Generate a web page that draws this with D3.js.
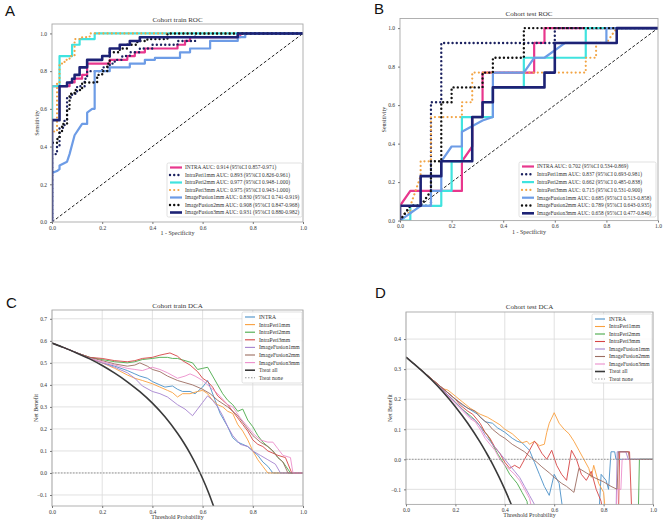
<!DOCTYPE html>
<html>
<head>
<meta charset="utf-8">
<script src="https://cdn.jsdelivr.net/npm/d3@7"></script>
<style>
body{margin:0;background:#fff}
text{font-family:"Liberation Serif","DejaVu Serif",serif;fill:#333}
.letter{font-family:"Liberation Sans",Arial,sans-serif;font-size:15px;fill:#111}
</style>
</head>
<body>
<script>

// ---------------- data ----------------
var rocModels = ["INTRA","IntraPeri1mm","IntraPeri2mm","IntraPeri3mm","ImageFusion1mm","ImageFusion2mm","ImageFusion3mm"];
var trainAuc = ["0.914 (95%CI 0.857-0.971)","0.893 (95%CI 0.826-0.961)","0.977 (95%CI 0.948-1.000)","0.975 (95%CI 0.943-1.000)","0.830 (95%CI 0.741-0.919)","0.908 (95%CI 0.847-0.968)","0.931 (95%CI 0.880-0.982)"];
var testAuc = ["0.702 (95%CI 0.534-0.869)","0.837 (95%CI 0.693-0.981)","0.662 (95%CI 0.485-0.838)","0.715 (95%CI 0.531-0.900)","0.685 (95%CI 0.513-0.858)","0.789 (95%CI 0.643-0.935)","0.658 (95%CI 0.477-0.840)"];

var trainFpr = [
  [0,0,0.07,0.07,0.09,0.09,0.12,0.12,0.14,0.14,0.23,0.23,0.3,0.3,0.33,0.33,0.37,0.37,0.5,0.5,0.53,0.53,0.55,0.55,0.75,0.75,1],
  [0,0,0.02,0.02,0.03,0.03,0.05,0.05,0.06,0.06,0.08,0.08,0.1,0.1,0.13,0.13,0.14,0.14,0.2,0.2,0.23,0.23,0.25,0.25,0.28,0.28,0.31,0.31,0.35,0.35,0.4,0.4,0.5,0.5,0.57,0.57,1],
  [0,0,0.03,0.03,0.08,0.08,0.11,0.11,0.17,0.17,1],
  [0,0,0.02,0.02,0.03,0.03,0.05,0.05,0.07,0.07,0.09,0.09,0.12,0.12,0.15,0.15,1],
  [0,0,0.02,0.03,0.03,0.06,0.07,0.09,0.11,0.12,0.14,0.14,0.16,0.17,0.17,0.23,0.23,0.31,0.31,0.37,0.37,0.41,0.41,0.51,0.51,0.55,0.55,0.63,0.63,0.74,0.74,0.77,0.77,1],
  [0,0,0.02,0.02,0.03,0.03,0.04,0.04,0.06,0.06,0.07,0.07,0.09,0.09,0.12,0.12,0.18,0.18,0.2,0.2,0.22,0.22,0.23,0.23,0.27,0.27,0.3,0.3,0.34,0.34,0.38,0.38,0.46,0.46,1],
  [0,0,0.03,0.03,0.06,0.06,0.08,0.08,0.09,0.09,0.11,0.11,0.14,0.14,0.2,0.2,0.23,0.23,0.27,0.27,0.31,0.31,0.35,0.35,0.74,0.74,1]
];
var trainTpr = [
  [0,0.72,0.72,0.74,0.74,0.76,0.76,0.78,0.78,0.84,0.84,0.86,0.86,0.88,0.88,0.9,0.9,0.92,0.92,0.94,0.94,0.96,0.96,0.98,0.98,1,1],
  [0,0.36,0.36,0.4,0.4,0.5,0.5,0.54,0.54,0.66,0.66,0.68,0.68,0.72,0.72,0.76,0.76,0.8,0.8,0.82,0.82,0.84,0.84,0.86,0.86,0.88,0.88,0.9,0.9,0.92,0.92,0.94,0.94,0.96,0.96,1,1],
  [0,0.72,0.72,0.88,0.88,0.94,0.94,0.97,0.97,1,1],
  [0,0.48,0.48,0.74,0.74,0.84,0.84,0.86,0.86,0.88,0.88,0.97,0.97,0.98,0.98,1,1],
  [0,0.26,0.27,0.28,0.3,0.32,0.36,0.46,0.5,0.52,0.52,0.58,0.6,0.6,0.8,0.8,0.82,0.82,0.84,0.84,0.86,0.86,0.87,0.87,0.9,0.9,0.92,0.92,0.96,0.96,0.98,0.98,1,1],
  [0,0.42,0.42,0.44,0.44,0.48,0.48,0.52,0.52,0.6,0.6,0.68,0.68,0.7,0.7,0.74,0.74,0.78,0.78,0.8,0.8,0.84,0.84,0.9,0.9,0.92,0.92,0.94,0.94,0.96,0.96,0.97,0.97,1,1],
  [0,0.54,0.54,0.72,0.72,0.74,0.74,0.76,0.76,0.78,0.78,0.82,0.82,0.86,0.86,0.88,0.88,0.92,0.92,0.94,0.94,0.96,0.96,0.98,0.98,1,1]
];

var testFpr = [
  [0,0,0.04,0.24,0.24,0.28,0.28,0.32,0.32,0.52,0.52,0.56,0.56,1],
  [0,0.04,0.12,0.12,0.16,0.16,0.6,0.6,1],
  [0,0.04,0.04,0.16,0.16,0.2,0.2,0.24,0.24,0.36,0.36,0.48,0.48,0.72,0.72,1],
  [0,0.02,0.04,0.04,0.06,0.08,0.08,0.12,0.12,0.24,0.24,0.28,0.28,0.72,0.72,0.76,0.76,0.8,0.84,1],
  [0,0.08,0.12,0.12,0.16,0.16,0.2,0.24,0.24,0.32,0.36,0.36,0.48,0.52,0.56,0.64,0.8,0.8,1],
  [0,0.04,0.08,0.12,0.12,0.16,0.16,0.2,0.2,0.32,0.32,0.36,0.36,0.48,0.48,1],
  [0,0,0.08,0.08,0.16,0.16,0.28,0.28,0.32,0.32,0.36,0.36,0.56,0.56,0.6,0.6,0.84,0.84,1]
];
var testTpr = [
  [0,0.077,0.154,0.154,0.308,0.385,0.538,0.538,0.769,0.769,0.923,0.923,1,1],
  [0,0.077,0.077,0.615,0.615,0.923,0.923,1,1],
  [0,0,0.077,0.077,0.154,0.154,0.308,0.308,0.538,0.538,0.692,0.692,0.846,0.846,1,1],
  [0,0.04,0.04,0.077,0.154,0.231,0.308,0.308,0.538,0.538,0.615,0.615,0.769,0.769,0.846,0.846,0.923,0.923,1,1],
  [0,0.077,0.077,0.154,0.154,0.308,0.385,0.385,0.462,0.52,0.538,0.769,0.769,0.846,0.846,0.923,0.923,1,1],
  [0,0.077,0.077,0.154,0.308,0.308,0.615,0.615,0.692,0.692,0.769,0.769,0.846,0.846,1,1],
  [0,0.077,0.077,0.231,0.231,0.308,0.308,0.538,0.538,0.615,0.615,0.692,0.692,0.769,0.769,0.923,0.923,1,1]
];

var dcaNames = ["INTRA","IntraPeri1mm","IntraPeri2mm","IntraPeri3mm","ImageFusion1mm","ImageFusion2mm","ImageFusion3mm","Treat all","Treat none"];

var trainDcaT = [
  [0,0.05,0.1,0.15,0.2,0.25,0.3,0.33,0.35,0.38,0.4,0.43,0.45,0.48,0.5,0.52,0.55,0.57,0.6,0.62,0.63,0.65,0.67,0.7,0.72,0.74,0.76,0.78,0.8,0.82,0.84,0.86,0.88,1],
  [0,0.05,0.1,0.15,0.2,0.25,0.3,0.33,0.36,0.4,0.43,0.46,0.48,0.5,0.52,0.55,0.58,0.6,0.62,0.64,0.66,0.68,0.7,0.72,0.74,0.76,0.78,0.8,0.82,0.84,0.86,1],
  [0,0.05,0.1,0.15,0.2,0.25,0.3,0.33,0.36,0.4,0.43,0.46,0.48,0.5,0.53,0.56,0.58,0.6,0.62,0.64,0.66,0.68,0.7,0.72,0.74,0.76,0.78,0.8,0.82,0.84,0.86,0.88,0.9,0.92,0.95,1],
  [0,0.05,0.1,0.15,0.2,0.25,0.3,0.33,0.36,0.4,0.43,0.45,0.47,0.5,0.52,0.55,0.58,0.6,0.62,0.64,0.66,0.68,0.7,0.72,0.74,0.76,0.78,0.8,0.82,0.84,0.86,0.88,0.9,0.93,0.955,1],
  [0,0.05,0.1,0.15,0.2,0.25,0.3,0.33,0.36,0.4,0.43,0.46,0.5,0.53,0.55,0.56,0.58,0.6,0.62,0.64,0.66,0.68,0.7,0.72,0.75,0.78,0.8,0.83,0.86,0.89,0.91,1],
  [0,0.05,0.1,0.15,0.2,0.25,0.3,0.33,0.35,0.38,0.4,0.43,0.46,0.5,0.53,0.56,0.6,0.63,0.66,0.7,0.74,0.78,0.8,0.83,0.86,0.88,0.9,0.92,0.94,1],
  [0,0.05,0.1,0.15,0.2,0.25,0.3,0.33,0.36,0.4,0.43,0.46,0.5,0.53,0.55,0.57,0.6,0.63,0.66,0.7,0.72,0.75,0.78,0.8,0.83,0.86,0.88,0.9,0.92,0.95,0.96,1],
  [0,0.05,0.1,0.15,0.2,0.25,0.3,0.35,0.4,0.45,0.5,0.525,0.55,0.575,0.6,0.625,0.65],
  [0,1]
];
var trainDcaNB = [
  [0.59,0.568,0.545,0.522,0.5,0.485,0.465,0.45,0.44,0.43,0.415,0.4,0.39,0.395,0.38,0.37,0.37,0.36,0.39,0.42,0.39,0.33,0.27,0.21,0.16,0.14,0.13,0.12,0.1,0.08,0.05,0.03,0,0],
  [0.59,0.568,0.545,0.52,0.5,0.475,0.445,0.43,0.42,0.405,0.39,0.375,0.365,0.345,0.36,0.36,0.37,0.375,0.36,0.33,0.31,0.3,0.28,0.27,0.22,0.19,0.15,0.1,0.06,0.03,0,0],
  [0.59,0.568,0.545,0.525,0.515,0.505,0.5,0.505,0.515,0.52,0.525,0.525,0.52,0.52,0.51,0.5,0.47,0.475,0.48,0.44,0.4,0.36,0.33,0.31,0.28,0.29,0.24,0.21,0.17,0.14,0.12,0.1,0.07,0.05,0,0],
  [0.59,0.568,0.545,0.525,0.52,0.51,0.505,0.51,0.52,0.525,0.535,0.54,0.545,0.53,0.51,0.49,0.46,0.43,0.415,0.39,0.35,0.33,0.31,0.28,0.25,0.22,0.19,0.15,0.13,0.12,0.1,0.09,0.08,0.07,0,0],
  [0.59,0.568,0.545,0.52,0.5,0.48,0.455,0.43,0.395,0.37,0.36,0.345,0.31,0.29,0.27,0.26,0.29,0.32,0.35,0.33,0.3,0.26,0.21,0.17,0.13,0.12,0.1,0.08,0.06,0.04,0,0],
  [0.59,0.568,0.545,0.525,0.51,0.495,0.485,0.49,0.5,0.485,0.47,0.46,0.44,0.42,0.41,0.4,0.38,0.36,0.33,0.3,0.26,0.2,0.17,0.14,0.12,0.1,0.07,0.05,0,0],
  [0.59,0.568,0.545,0.52,0.505,0.49,0.475,0.47,0.465,0.48,0.47,0.455,0.43,0.44,0.45,0.44,0.42,0.39,0.36,0.31,0.3,0.25,0.21,0.18,0.15,0.14,0.14,0.11,0.08,0.07,0,0],
  [0.59,0.568,0.544,0.518,0.488,0.453,0.414,0.369,0.317,0.255,0.18,0.137,0.089,0.035,-0.025,-0.093,-0.171],
  [0,0]
];

var testDcaT = [
  [0,0.05,0.1,0.15,0.2,0.23,0.26,0.29,0.32,0.35,0.37,0.4,0.43,0.45,0.47,0.5,0.52,0.54,0.56,0.58,0.6,0.62,0.64,0.66,0.78,0.79,0.81,0.82,0.83,0.845,0.85,1],
  [0,0.05,0.1,0.15,0.17,0.2,0.23,0.26,0.28,0.3,0.33,0.35,0.38,0.4,0.43,0.45,0.47,0.49,0.5,0.52,0.54,0.56,0.57,0.58,0.6,0.62,0.64,0.66,0.68,0.7,0.72,0.74,0.75,0.76,0.78,0.8,0.81],
  [0,0.05,0.1,0.15,0.2,0.23,0.26,0.28,0.3,0.33,0.35,0.37,0.4,0.42,0.45,0.47,0.49,0.5,0.94,0.945,1],
  [0,0.05,0.1,0.15,0.2,0.22,0.25,0.27,0.3,0.32,0.34,0.36,0.38,0.4,0.42,0.44,0.46,0.48,0.5,0.52,0.53,0.55,0.57,0.59,0.61,0.63,0.65,0.67,0.69,0.71,0.73,0.75,0.77,0.79,0.8,0.86,0.865,0.905,0.915],
  [0,0.05,0.1,0.15,0.2,0.23,0.26,0.28,0.3,0.32,0.34,0.36,0.38,0.4,0.42,0.44,0.46,0.48,0.5,0.52,0.53,0.85,0.855,0.89,0.9,1],
  [0,0.05,0.1,0.15,0.2,0.25,0.28,0.3,0.33,0.35,0.38,0.4,0.43,0.45,0.48,0.5,0.53,0.55,0.58,0.6,0.63,0.65,0.68,0.7,0.73,0.76,0.8,0.83,0.855,0.86,0.9,0.905,1],
  [0,0.05,0.1,0.15,0.2,0.23,0.26,0.28,0.3,0.32,0.34,0.36,0.38,0.4,0.42,0.44,0.46,0.48,0.5,0.52,0.85,0.855,0.87,0.875,0.9],
  [0,0.05,0.1,0.15,0.2,0.25,0.3,0.325,0.35,0.375,0.4,0.425,0.45],
  [0,1]
];
var testDcaNB = [
  [0.34,0.305,0.27,0.235,0.2,0.18,0.165,0.15,0.125,0.12,0.105,0.09,0.07,0.06,0.055,0.03,-0.01,-0.05,-0.09,-0.12,-0.05,-0.08,-0.2,-0.2,-0.2,-0.05,-0.07,-0.1,0.025,0.025,0,0],
  [0.34,0.305,0.27,0.235,0.23,0.21,0.19,0.17,0.16,0.15,0.14,0.13,0.115,0.1,0.085,0.07,0.055,0.06,0.05,0.06,0.045,0.05,0.09,0.12,0.155,0.12,0.1,0.085,0.06,0.03,0,-0.03,-0.06,-0.02,-0.08,-0.11,-0.2],
  [0.34,0.305,0.268,0.23,0.19,0.165,0.145,0.13,0.11,0.08,0.05,0.02,-0.02,-0.05,-0.08,-0.11,-0.14,-0.2,-0.2,0,0],
  [0.34,0.305,0.27,0.235,0.2,0.18,0.16,0.15,0.12,0.09,0.07,0.04,0.02,-0.01,-0.03,-0.02,-0.03,0,0.03,0.06,0.05,0.02,0,0.03,-0.02,-0.05,-0.07,0.03,0,-0.05,-0.07,-0.04,-0.1,-0.14,-0.2,-0.2,0.025,0.025,-0.2],
  [0.34,0.305,0.268,0.23,0.19,0.165,0.14,0.13,0.11,0.08,0.06,0.04,0.02,0,-0.02,-0.04,-0.06,-0.09,-0.12,-0.15,-0.2,-0.2,0.025,0.025,0,0],
  [0.34,0.305,0.27,0.235,0.2,0.17,0.16,0.14,0.12,0.1,0.08,0.07,0.05,0.04,0.025,0.01,-0.01,-0.025,-0.045,-0.06,-0.08,-0.09,-0.11,-0.03,-0.045,-0.06,-0.075,-0.09,-0.1,0.025,0.025,0,0],
  [0.34,0.305,0.268,0.228,0.185,0.16,0.135,0.125,0.1,0.07,0.05,0.03,0,-0.02,-0.035,-0.05,-0.07,-0.1,-0.13,-0.2,-0.2,-0.1,-0.1,0,0],
  [0.34,0.305,0.267,0.224,0.175,0.12,0.057,0.022,-0.015,-0.056,-0.1,-0.148,-0.2],
  [0,0]
];

var xTicks = [0,0.2,0.4,0.6,0.8,1.0];
var rocYTicks = [0,0.2,0.4,0.6,0.8,1.0];
var trainDcaYTicks = [-0.1,0,0.1,0.2,0.3,0.4,0.5,0.6,0.7];
var testDcaYTicks = [-0.1,0,0.1,0.2,0.3,0.4];

// ---------------- styles ----------------
var rocColors = ["#e8378d","#1c2260","#40e3df","#f2a444","#6d9ce6","#111111","#1d2275"];
var rocDotted = [false,true,false,true,false,true,false];
var rocWidth = [2.2,2.4,2.2,2.2,2.2,2.4,2.6];
var dcaColors = ["#4a90c8","#f9a03f","#4aaa4a","#d64545","#a583cf","#9c6d62","#ec8fcc","#3a3a3a","#999999"];

var svg = d3.select("body").append("svg").attr("width",669).attr("height",525);
var fmt = d3.format(".1f");

function panel(o){
  var x = d3.scaleLinear().domain([0,1]).range([o.l,o.r]);
  var y = d3.scaleLinear().domain(o.yDom).range([o.b,o.t]);
  var g = svg.append("g");
  var id = "clip" + o.name;
  svg.append("clipPath").attr("id",id).append("rect")
     .attr("x",o.l).attr("y",o.t).attr("width",o.r-o.l).attr("height",o.b-o.t);

  if(o.grid){
    g.selectAll(".gx").data(xTicks).enter().append("line")
      .attr("x1",function(d){return x(d);}).attr("x2",function(d){return x(d);})
      .attr("y1",o.t).attr("y2",o.b).style("stroke","#dedede").style("stroke-width",0.9);
    g.selectAll(".gy").data(o.yTicks).enter().append("line")
      .attr("y1",function(d){return y(d);}).attr("y2",function(d){return y(d);})
      .attr("x1",o.l).attr("x2",o.r).style("stroke","#dedede").style("stroke-width",0.9);
  }

  var plot = g.append("g").attr("clip-path","url(#"+id+")");

  g.append("rect").attr("x",o.l).attr("y",o.t).attr("width",o.r-o.l).attr("height",o.b-o.t)
    .style("fill","none").style("stroke","#a8a8a8").style("stroke-width",0.9);

  g.append("g").attr("transform","translate(0,"+o.b+")")
    .call(d3.axisBottom(x).tickValues(xTicks).tickFormat(fmt).tickSize(2).tickPadding(2));
  g.append("g").attr("transform","translate("+o.l+",0)")
    .call(d3.axisLeft(y).tickValues(o.yTicks).tickFormat(fmt).tickSize(2).tickPadding(3));
  g.selectAll(".domain").remove();
  g.selectAll(".tick line").style("stroke","#777");
  g.selectAll(".tick text").style("font-size","5.5px").style("font-family","Liberation Serif").attr("fill","#444");

  g.append("text").attr("x",(o.l+o.r)/2).attr("y",o.titleY).attr("text-anchor","middle")
    .style("font-size","7px").text(o.title);
  g.append("text").attr("x",(o.l+o.r)/2).attr("y",o.b+13).attr("text-anchor","middle")
    .style("font-size","6px").text(o.xlabel);
  g.append("text").attr("transform","translate("+o.ylx+","+((o.t+o.b)/2)+") rotate(-90)")
    .attr("text-anchor","middle").style("font-size","6px").text(o.ylabel);
  svg.append("text").attr("class","letter").attr("x",o.lx).attr("y",o.ly).text(o.letter);

  return {x:x,y:y,plot:plot,g:g};
}

function drawRoc(p, fprs, tprs, aucs, leg){
  var line = d3.line().x(function(d){return p.x(d[0]);}).y(function(d){return p.y(d[1]);});
  p.plot.append("path").datum([[0,0],[1,1]]).attr("d",line)
    .style("fill","none").style("stroke","#222").style("stroke-width",1).style("stroke-dasharray","3,2");
  rocModels.forEach(function(m,i){
    var pts = d3.zip(fprs[i],tprs[i]);
    var path = p.plot.append("path").datum(pts).attr("d",line)
      .style("fill","none").style("stroke",rocColors[i]).style("stroke-width",rocWidth[i])
      .style("stroke-linejoin","round");
    if(rocDotted[i]) path.style("stroke-dasharray","0.01,4.2").style("stroke-linecap","round");
  });
  var lg = p.g.append("g");
  lg.append("rect").attr("x",leg.x).attr("y",leg.y).attr("width",leg.w).attr("height",leg.h)
    .attr("rx",1.5).style("fill","#fff").style("fill-opacity",0.85).style("stroke","#d4d4d4").style("stroke-width",0.7);
  rocModels.forEach(function(m,i){
    var yy = leg.y + 4.5 + i*leg.dy;
    var l = lg.append("line").attr("x1",leg.x+3).attr("x2",leg.x+15).attr("y1",yy).attr("y2",yy)
      .style("stroke",rocColors[i]).style("stroke-width",rocWidth[i]);
    if(rocDotted[i]) l.style("stroke-dasharray","0.01,4.2").style("stroke-linecap","round");
    lg.append("text").attr("x",leg.x+18).attr("y",yy+1.8).style("font-size","5.4px")
      .text(m + " AUC: " + aucs[i]);
  });
}

function drawDca(p, ts, nbs, leg){
  var line = d3.line().x(function(d){return p.x(d[0]);}).y(function(d){return p.y(d[1]);});
  dcaNames.forEach(function(m,i){
    var pts = d3.zip(ts[i],nbs[i]);
    var path = p.plot.append("path").datum(pts)
      .style("fill","none").style("stroke",dcaColors[i]).style("stroke-linejoin","round");
    if(i == 7){
      path.attr("d",line.curve(d3.curveMonotoneX)).style("stroke-width",1.6);
      line.curve(d3.curveLinear);
    } else if(i == 8){
      path.attr("d",line).style("stroke-width",1).style("stroke-dasharray","1.5,1.5");
    } else {
      path.attr("d",line).style("stroke-width",1).style("stroke-opacity",0.9);
    }
  });
  var lg = p.g.append("g");
  lg.append("rect").attr("x",leg.x).attr("y",leg.y).attr("width",leg.w).attr("height",leg.h)
    .attr("rx",1.5).style("fill","#fff").style("fill-opacity",0.85).style("stroke","#d4d4d4").style("stroke-width",0.7);
  dcaNames.forEach(function(m,i){
    var yy = leg.y + 5 + i*leg.dy;
    var l = lg.append("line").attr("x1",leg.x+3).attr("x2",leg.x+13).attr("y1",yy).attr("y2",yy)
      .style("stroke",dcaColors[i]).style("stroke-width",i==7?1.6:1.1);
    if(i == 8) l.style("stroke-dasharray","1.5,1.5");
    lg.append("text").attr("x",leg.x+17).attr("y",yy+1.9).style("font-size","5.6px").text(m);
  });
}

// A
var pA = panel({name:"A",l:52,r:303,t:24,b:222,yDom:[0,1.05],yTicks:rocYTicks,grid:false,
  title:"Cohort train ROC",titleY:21.5,xlabel:"1 - Specificity",ylabel:"Sensitivity",ylx:39,
  letter:"A",lx:5,ly:16});
drawRoc(pA, trainFpr, trainTpr, trainAuc, {x:167,y:163,w:135,h:54,dy:7.5});

// B
var pB = panel({name:"B",l:400,r:658,t:18.5,b:220.6,yDom:[0,1.05],yTicks:rocYTicks,grid:false,
  title:"Cohort test ROC",titleY:16,xlabel:"1 - Specificity",ylabel:"Sensitivity",ylx:386,
  letter:"B",lx:374,ly:14});
drawRoc(pB, testFpr, testTpr, testAuc, {x:519,y:162,w:137,h:55,dy:7.8});

// C
var pC = panel({name:"C",l:52,r:303,t:310,b:506,yDom:[-0.15,0.74],yTicks:trainDcaYTicks,grid:true,
  title:"Cohort train DCA",titleY:307.5,xlabel:"Threshold Probability",ylabel:"Net Benefit",ylx:38,
  letter:"C",lx:6,ly:308});
drawDca(pC, trainDcaT, trainDcaNB, {x:242,y:312,w:60,h:71,dy:7.6});

// D
var pD = panel({name:"D",l:406,r:653,t:312,b:504.4,yDom:[-0.15,0.49],yTicks:testDcaYTicks,grid:true,
  title:"Cohort test DCA",titleY:309,xlabel:"Threshold Probability",ylabel:"Net Benefit",ylx:392,
  letter:"D",lx:375,ly:298});
drawDca(pD, testDcaT, testDcaNB, {x:592,y:314,w:60,h:69,dy:7.5});

</script>
</body>
</html>
